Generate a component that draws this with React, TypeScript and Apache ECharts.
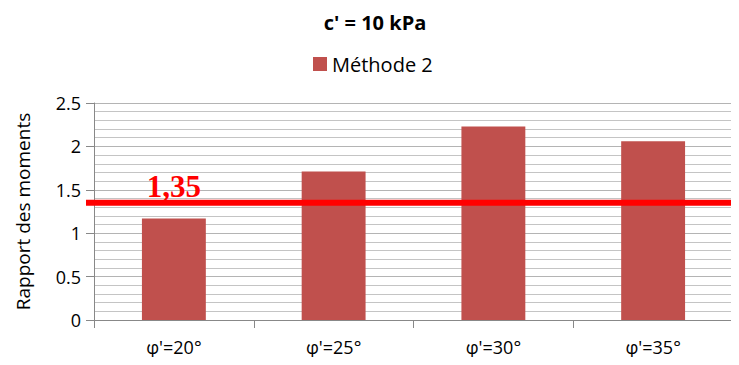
import React, { useEffect, useRef } from "react";
import * as echarts from "echarts";

const categories = ["φ'=20°", "φ'=25°", "φ'=30°", "φ'=35°"];
const methode2 = [1.17, 1.71, 2.23, 2.06];
const seuil = 1.35;
const seuilLabel = "1,35";
const titleText = "c' = 10 kPa";
const seriesName = "Méthode 2";
const yAxisName = "Rapport des moments";

const FONT = "'Open Sans', 'Noto Sans', sans-serif";

export default function App() {
  const ref = useRef<HTMLDivElement>(null);
  useEffect(() => {
    if (!ref.current) return;
    const chart = echarts.init(ref.current, undefined, { renderer: "svg" });
    chart.setOption({
      animation: false,
      textStyle: { fontFamily: FONT },
      title: {
        text: titleText,
        left: 370,
        textAlign: "center",
        top: 7,
        textStyle: { fontSize: 20, fontWeight: "bold", color: "#000", fontFamily: FONT },
      },
      legend: {
        data: [seriesName],
        left: 308,
        top: 49,
        itemWidth: 14,
        itemHeight: 14,
        itemGap: 6,
        icon: "rect",
        textStyle: { fontSize: 20, color: "#000", fontFamily: FONT },
      },
      grid: { left: 94, right: 6, top: 103, bottom: 45 },
      xAxis: {
        type: "category",
        data: categories,
        axisLine: { lineStyle: { color: "#888", width: 1 } },
        axisTick: { show: true, length: 8, lineStyle: { color: "#888" } },
        axisLabel: { fontSize: 18, color: "#000", margin: 18, fontFamily: FONT },
        splitLine: { show: false },
      },
      yAxis: {
        type: "value",
        min: 0,
        max: 2.5,
        interval: 0.5,
        name: yAxisName,
        nameLocation: "middle",
        nameGap: 62,
        nameTextStyle: { fontSize: 19, color: "#000", fontFamily: FONT },
        axisLine: { show: true, lineStyle: { color: "#888" } },
        axisTick: { show: true, length: 8, lineStyle: { color: "#888" } },
        axisLabel: { fontSize: 18, color: "#000", margin: 13, fontFamily: FONT },
        splitLine: { show: true, lineStyle: { color: "#b4b4b4", width: 1 } },
        minorTick: { show: false, splitNumber: 5 },
        minorSplitLine: { show: true, lineStyle: { color: "#c4c4c4", width: 1 } },
      },
      series: [
        {
          name: seriesName,
          type: "bar",
          data: methode2,
          barWidth: "40%",
          itemStyle: { color: "#C0504D" },
        },
      ],
    });
    const y = chart.convertToPixel({ yAxisIndex: 0 }, seuil) as number;
    const x0 = chart.convertToPixel({ xAxisIndex: 0 }, 0) as number;
    chart.setOption({
      graphic: [
        {
          type: "line",
          z: 100,
          shape: { x1: 86, y1: y, x2: 739, y2: y },
          style: { stroke: "#FF0000", lineWidth: 6 },
        },
        {
          type: "text",
          z: 101,
          x: x0,
          y: y - 1,
          style: {
            text: seuilLabel,
            fill: "#FF0000",
            font: "bold 31px 'Liberation Serif', 'DejaVu Serif', serif",
            textAlign: "center",
            textVerticalAlign: "bottom",
          },
        },
      ],
    });
    return () => chart.dispose();
  }, []);
  return <div ref={ref} style={{ width: 739, height: 365, margin: -8 }} />;
}
